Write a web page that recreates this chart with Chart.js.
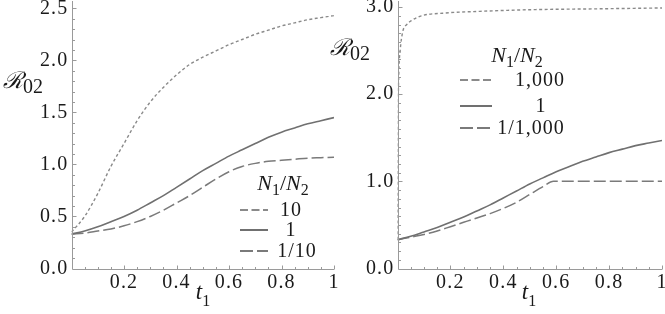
<!DOCTYPE html>
<html><head><meta charset="utf-8">
<script src="https://cdn.jsdelivr.net/npm/chart.js@4.4.0/dist/chart.umd.min.js"></script>
<style>
html,body{margin:0;padding:0;background:#fff;overflow:hidden;width:665px;height:314px;position:relative;}
.wrap{position:absolute;left:0;top:-20px;width:685px;height:354px;}
canvas{display:block}
</style></head><body>
<div class="wrap"><canvas id="c1" width="685" height="354"></canvas></div>
<div class="wrap"><canvas id="c2" width="685" height="354"></canvas></div>
<script>
// ---------- data ----------
const tGrid = [0,0.05,0.1,0.15,0.2,0.25,0.3,0.35,0.4,0.45,0.5,0.55,0.6,0.65,0.7,0.75,0.8,0.85,0.9,0.95,1];
// left panel
const leftRatio10   = [0.35,0.50,0.72,0.98,1.20,1.42,1.60,1.74,1.86,1.96,2.03,2.09,2.15,2.20,2.25,2.29,2.33,2.36,2.39,2.41,2.43];
const leftRatio1    = [0.33,0.36,0.40,0.45,0.50,0.56,0.63,0.70,0.78,0.86,0.94,1.01,1.08,1.14,1.20,1.26,1.31,1.35,1.39,1.42,1.45];
const leftRatio1_10 = [0.33,0.34,0.36,0.38,0.41,0.45,0.50,0.56,0.63,0.70,0.78,0.86,0.93,0.98,1.01,1.03,1.04,1.05,1.06,1.065,1.07];
// right panel
const tRight1000 = [0,0.001,0.002,0.003,0.005,0.01,0.02,0.035,0.055,0.09,0.17,0.3,0.5,0.75,1];
const rightRatio1000 = [0.33,0.8,1.3,1.9,2.25,2.5,2.72,2.8,2.85,2.9,2.93,2.95,2.97,2.98,2.99];
const rightRatio1 = [0.33,0.37,0.42,0.47,0.53,0.59,0.66,0.73,0.81,0.89,0.97,1.04,1.11,1.17,1.23,1.28,1.33,1.37,1.41,1.44,1.47];
const tRight1_1000 = [0,0.05,0.1,0.15,0.2,0.25,0.3,0.35,0.4,0.45,0.5,0.55,0.59,0.7,0.8,0.9,1];
const rightRatio1_1000 = [0.33,0.36,0.39,0.43,0.48,0.53,0.58,0.63,0.69,0.76,0.85,0.94,1.0,1.0,1.0,1.0,1.0];

const xTickVals = [0.2,0.4,0.6,0.8,1];
const xTickLabels = ['0.2','0.4','0.6','0.8','1'];
const leftYTickVals = [0,0.5,1,1.5,2,2.5];
const leftYTickLabels = ['0.0','0.5','1.0','1.5','2.0','2.5'];
const rightYTickVals = [0,1,2,3];
const rightYTickLabels = ['0.0','1.0','2.0','3.0'];
const leftLegend = ['10','1','1/10'];
const rightLegend = ['1,000','1','1/1,000'];

// ---------- styles ----------
const OFF = 20; // canvas offset above window
const STY = [
  {color:'#8a8a8a', width:1.4, dash:[3,2.5], legDash:[8,3.5]},
  {color:'#707070', width:1.6, dash:[], legDash:[]},
  {color:'#7a7a7a', width:1.5, dash:[12,4], legDash:[13,4]}
];
const SERIF = '"Liberation Serif","DejaVu Serif",serif';

function pts(t, v){ return t.map((x,i)=>({x:x, y:v[i]})); }
function ds(data, s){
  return {data:data, borderColor:STY[s].color, borderWidth:STY[s].width, borderDash:STY[s].dash,
          pointRadius:0, fill:false, cubicInterpolationMode:'monotone', showLine:true};
}

const spacingPlugin = {id:'spacing',
  beforeDraw(chart){ chart.ctx.letterSpacing = '1.2px'; },
  beforeDatasetsDraw(chart){ chart.ctx.letterSpacing = '0px'; }
};

function axesPlugin(yMinorStep, yMax, majorEvery){
  return {id:'mmaAxes', afterDatasetsDraw(chart){
    const ctx = chart.ctx, a = chart.chartArea, xs = chart.scales.x, ys = chart.scales.y;
    ctx.save();
    ctx.strokeStyle = '#9a9a9a'; ctx.lineWidth = 1; ctx.setLineDash([]);
    const ax = Math.round(a.left)+0.5, ay = Math.round(a.bottom)+0.5;
    ctx.beginPath(); ctx.moveTo(ax, a.top); ctx.lineTo(ax, ay); ctx.lineTo(a.right, ay); ctx.stroke();
    for(let i=1;i<=20;i++){
      const v = i*0.05, px = Math.round(xs.getPixelForValue(v))+0.5;
      const major = (i%4===0) || i===20;
      ctx.beginPath(); ctx.moveTo(px, ay); ctx.lineTo(px, ay-(major?4:2.5)); ctx.stroke();
    }
    const n = Math.floor(yMax/yMinorStep+1e-6);
    for(let i=1;i<=n;i++){
      const v=i*yMinorStep, py = Math.round(ys.getPixelForValue(v))+0.5;
      const major = (i%majorEvery===0);
      ctx.beginPath(); ctx.moveTo(ax, py); ctx.lineTo(ax+(major?4:2.5), py); ctx.stroke();
    }
    ctx.restore();
  }};
}

function drawPieces(ctx, pieces, cx, baseY, align){
  let w = 0;
  pieces.forEach(p=>{ctx.font=p[1]; w += ctx.measureText(p[0]).width;});
  let x = align==='left' ? cx : cx - w/2;
  pieces.forEach(p=>{ctx.font=p[1]; ctx.fillText(p[0], x, baseY + (p[2]||0)); x += ctx.measureText(p[0]).width;});
}

function legendPlugin(spec){
  return {id:'texts', afterDraw(chart){
    const ctx = chart.ctx; ctx.save();
    ctx.letterSpacing = '0px';
    ctx.fillStyle = '#1a1a1a'; ctx.textBaseline = 'alphabetic';
    drawPieces(ctx, [['\u211B','italic 23px "DejaVu Serif",serif',0],['02','20px '+SERIF,5]], spec.rx, spec.ry+OFF, 'left');
    drawPieces(ctx, [['t','italic 23px '+SERIF,0],['1','16px '+SERIF,7]], spec.tx, spec.ty+OFF, 'center');
    drawPieces(ctx, [['N','italic 22px '+SERIF,0],['1','16px '+SERIF,5],['/','22px '+SERIF,0],['N','italic 22px '+SERIF,0],['2','16px '+SERIF,5]], spec.titleX, spec.titleY+OFF, 'center');
    spec.rows.forEach((r,i)=>{
      const y = r.y + OFF;
      ctx.save();
      ctx.strokeStyle = STY[i].color; ctx.lineWidth = 2; ctx.setLineDash(STY[i].legDash);
      ctx.beginPath(); ctx.moveTo(spec.lx0, y); ctx.lineTo(spec.lx1, y); ctx.stroke();
      ctx.restore();
      ctx.letterSpacing = '1px';
      ctx.font = '20px '+SERIF; ctx.textAlign='center'; ctx.textBaseline='middle';
      ctx.fillText(r.label, r.x, y+1);
      ctx.letterSpacing = '0px';
      ctx.textAlign='left'; ctx.textBaseline='alphabetic';
    });
    ctx.restore();
  }};
}

function makeChart(id, datasets, yMax, yTickVals, yTickLabels, pad, minorStep, majorEvery, legSpec){
  return new Chart(document.getElementById(id), {
    type:'scatter',
    data:{datasets:datasets},
    options:{
      responsive:false, animation:false, devicePixelRatio:1,
      layout:{padding:pad},
      plugins:{legend:{display:false}, tooltip:{enabled:false}},
      scales:{
        x:{type:'linear', min:0, max:1,
           afterFit(s){ s.height = 40; },
           afterBuildTicks(s){ s.ticks = xTickVals.map(v=>({value:v})); },
           ticks:{callback:(v)=>{const i=xTickVals.findIndex(t=>Math.abs(t-v)<1e-9); return i>=0?xTickLabels[i]:'';},
                  font:{family:SERIF, size:20}, color:'#1a1a1a', padding:2, maxRotation:0, autoSkip:false},
           grid:{display:false, drawTicks:false}, border:{display:false}},
        y:{type:'linear', min:0, max:yMax,
           afterFit(s){ s.width = 60; },
           afterBuildTicks(s){ s.ticks = yTickVals.map(v=>({value:v})); },
           ticks:{callback:(v)=>{const i=yTickVals.findIndex(t=>Math.abs(t-v)<1e-9); return i>=0?yTickLabels[i]:'';},
                  font:{family:SERIF, size:20}, color:'#1a1a1a', padding:3, autoSkip:false},
           grid:{display:false, drawTicks:false}, border:{display:false}}
      }
    },
    plugins:[spacingPlugin, axesPlugin(minorStep, yMax, majorEvery), legendPlugin(legSpec)]
  });
}

makeChart('c1', [
    ds(pts(tGrid, leftRatio10),0), ds(pts(tGrid, leftRatio1),1), ds(pts(tGrid, leftRatio1_10),2)
  ], 2.57, leftYTickVals, leftYTickLabels,
  {left:11.5, right:351, top:21, bottom:25.5}, 0.1, 5,
  {rx:3, ry:88, tx:203, ty:299, titleX:283, titleY:190,
   lx0:240, lx1:268, rows:[{y:210,label:leftLegend[0],x:291},{y:230,label:leftLegend[1],x:291},{y:251,label:leftLegend[2],x:297}]});

makeChart('c2', [
    ds(pts(tRight1000, rightRatio1000),0), ds(pts(tGrid, rightRatio1),1), ds(pts(tRight1_1000, rightRatio1_1000),2)
  ], 3.07, rightYTickVals, rightYTickLabels,
  {left:337.5, right:23, top:21, bottom:25.5}, 0.1, 10,
  {rx:330, ry:55, tx:529, ty:299, titleX:517, titleY:62,
   lx0:460, lx1:492, rows:[{y:80,label:rightLegend[0],x:540},{y:106,label:rightLegend[1],x:541},{y:128,label:rightLegend[2],x:531}]});
</script>
</body></html>
